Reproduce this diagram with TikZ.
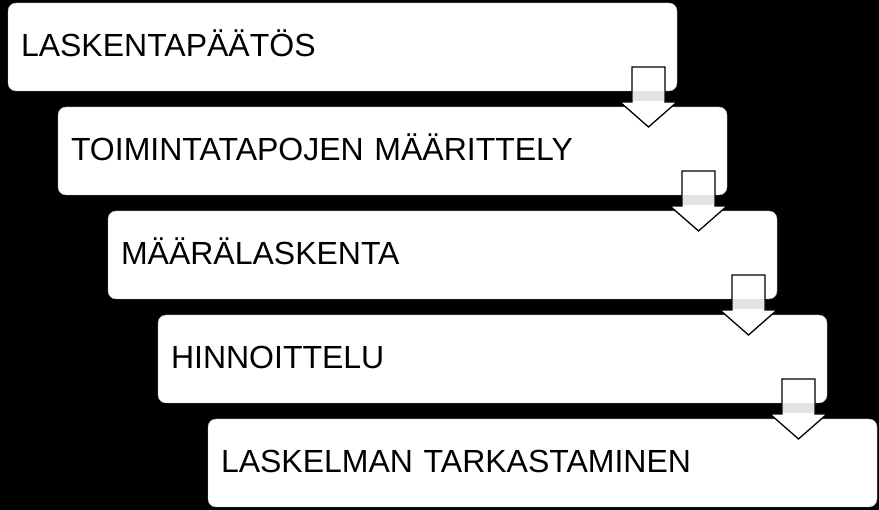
\documentclass[tikz,border=0pt]{standalone}
\usepackage{fontspec}
\setmainfont{Liberation Sans}
\begin{document}
\begin{tikzpicture}[x=1pt,y=-1pt,
  stepbox/.style={rectangle, rounded corners=8pt, fill=white, draw=gray!60, line width=0.4pt,
    minimum width=669pt, minimum height=88pt, inner xsep=13pt, inner ysep=0pt, outer sep=0pt,
    text width=643pt, align=left, text height=20pt, text depth=0pt,
    font=\fontsize{32}{36}\selectfont, anchor=north west},
  downarrow/.style={draw=black, line width=1.3pt, fill=white, line join=miter}
]
\fill[black] (0,0) rectangle (879,510);
\useasboundingbox (0,0) rectangle (879,510);
\node[stepbox] (b1) at (8,3) {LASKENTAPÄÄTÖS};
\node[stepbox] (b2) at (58,107) {TOIMINTATAPOJEN MÄÄRITTELY};
\node[stepbox] (b3) at (108,211) {MÄÄRÄLASKENTA};
\node[stepbox] (b4) at (158,315) {HINNOITTELU};
\node[stepbox] (b5) at (208,419) {LASKELMAN TARKASTAMINEN};
\foreach \a in {b1,b2,b3,b4}{
  \begin{scope}[shift={(\a.south east)}]
    \draw[downarrow] (-45,-24) -- (-12,-24) -- (-12,11) -- (0,11) -- (-28.5,36) -- (-57,11) -- (-45,11) -- cycle;
    \fill[gray!22] (-44.3,0.5) rectangle (-12.7,10.3);
  \end{scope}
}
\end{tikzpicture}
\end{document}
